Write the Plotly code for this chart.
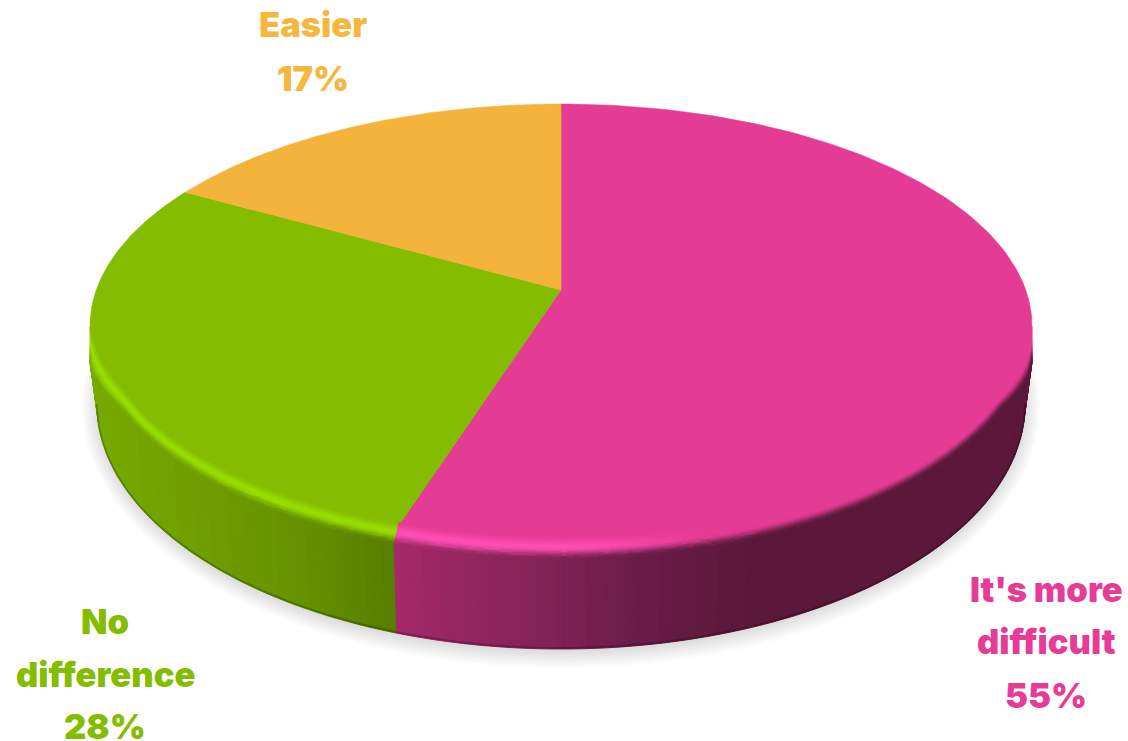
import numpy as np
import plotly.graph_objects as go

# ---- data ----
categories = ["It's more difficult", "No difference", "Easier"]
values = [55, 28, 17]
label_lines = [["It's more", "difficult", "55%"], ["No", "difference", "28%"], ["Easier", "17%"]]
face_colors = [(228, 59, 148), (131, 187, 0), (245, 181, 61)]
label_colors = ["#E63C96", "#84BD00", "#F6B73E"]
highlight_colors = [(255, 78, 178), (152, 222, 0), (245, 181, 61)]

# ---- presentation of the tilted disc (screen units) ----
W, H = 1128, 741
CX, CY, RX, RY = 561.0, 326.0, 471.0, 222.0
APEX_Y = 290.0
K, A, C = 0.162, 216.0, 458.0
BOT_CY, BOT_RX, BOT_RY = 404.0, 464.0, 245.0
label_x = [1046, 105, 313]
label_y = [[589, 641, 695], [621, 674, 726], [24, 78]]
wall_stops = [
    [(395, (166, 40, 106)), (450, (150, 38, 98)), (520, (136, 36, 90)), (600, (115, 30, 78)),
     (680, (98, 26, 66)), (760, (92, 24, 58)), (1040, (92, 24, 58))],
    [(90, (118, 170, 0)), (200, (110, 158, 0)), (300, (100, 146, 0)), (395, (86, 126, 0))],
    [(0, (200, 150, 50)), (1128, (200, 150, 50))],
]


def phi_of_share(share):
    th = 2 * np.pi * share
    d = 1 + K * np.cos(th)
    sx = C * np.sin(th) / d
    sy = APEX_Y - A * np.cos(th) / d
    phi = np.arctan2((sy - CY) / RY, sx / RX)
    while phi < -np.pi / 2 - 1e-9:
        phi += 2 * np.pi
    return phi


shares = np.cumsum([0] + values) / sum(values)
bounds = [-np.pi / 2] + [phi_of_share(s) for s in shares[1:-1]] + [1.5 * np.pi]


def slice_at(phi):
    for i in range(len(values)):
        if bounds[i] <= phi <= bounds[i + 1]:
            return i
    return len(values) - 1


def mix(a, b, t):
    return tuple(a[i] + (b[i] - a[i]) * t for i in range(3))


def wall_color(i, x):
    st = wall_stops[i]
    xs = [s[0] for s in st]
    return tuple(np.interp(x, xs, [s[1][c] for s in st]) for c in range(3))


def hexc(c):
    return "#%02x%02x%02x" % tuple(int(min(255, max(0, round(v / 2) * 2))) for v in c)


groups = {}


def add_poly(color, xs, ys):
    g = groups.setdefault(hexc(color), ([], []))
    g[0].extend(list(xs) + [xs[0], None])
    g[1].extend(list(ys) + [ys[0], None])


def smooth(t):
    t = np.clip(t, 0, 1)
    return t * t * (3 - 2 * t)


def ring(phi, t):
    """t=0 inner bevel edge, t=1 outer rim."""
    s = max(0.0, np.sin(phi))
    w = min(1.0, s / 0.3)
    rx = RX - 14 * w * (1 - t)
    ry = RY + w * (-12 + 23 * t)
    extra = 34 * max(0.0, 1 - s / 0.35) * t
    return CX + rx * np.cos(phi), CY + ry * np.sin(phi) + extra


def bottom(phi):
    return CX + BOT_RX * np.cos(phi), BOT_CY + BOT_RY * np.sin(phi)


fig = go.Figure()

# soft ground shadow
for j in range(14):
    f = j / 13
    phi = np.linspace(0, 2 * np.pi, 240)
    fig.add_trace(go.Scatter(
        x=CX + (479 - 26 * f) * np.cos(phi), y=406 + (262 - 28 * f) * np.sin(phi),
        mode="lines", line=dict(width=0), fill="toself", fillcolor="rgba(0,0,0,0.014)",
        hoverinfo="skip", showlegend=False))

# side wall
grid = np.linspace(0, np.pi, 241)
for a, b in zip(grid[:-1], grid[1:]):
    cuts = [a] + [bd for bd in bounds if a < bd < b] + [b]
    for p, q in zip(cuts[:-1], cuts[1:]):
        i = slice_at(0.5 * (p + q))
        t1, t2 = ring(p, 1), ring(q, 1)
        b1, b2 = bottom(p), bottom(q)
        col = wall_color(i, 0.5 * (t1[0] + t2[0]))
        add_poly(col, [t1[0], t2[0], b2[0], b1[0]], [t1[1], t2[1], b2[1], b1[1]])

# top face
wall_polys = groups
groups = {}
for i in range(len(values)):
    phi = np.linspace(bounds[i], bounds[i + 1], 200)
    xs = [CX] + list(CX + RX * np.cos(phi))
    ys = [APEX_Y] + list(CY + RY * np.sin(phi))
    add_poly(face_colors[i], xs, ys)
face_polys = groups
groups = {}

# bevelled rim on the front half of the face
N_BANDS = 12
PEAK = 0.5
for a, b in zip(grid[:-1], grid[1:]):
    cuts = [a] + [bd for bd in bounds if a < bd < b] + [b]
    for p, q in zip(cuts[:-1], cuts[1:]):
        i = slice_at(0.5 * (p + q))
        for n in range(N_BANDS):
            t0, t1 = n / N_BANDS, (n + 1) / N_BANDS
            tm = 0.5 * (t0 + t1)
            P = [ring(p, t0), ring(q, t0), ring(q, t1), ring(p, t1)]
            xm = sum(v[0] for v in P) / 4
            wc = wall_color(i, xm)
            strength = 1 - smooth((xm - 560) / 170) if i == 0 else 1.0
            hl = mix(face_colors[i], highlight_colors[i], strength)
            if tm < PEAK:
                col = mix(face_colors[i], hl, smooth(tm / PEAK))
            else:
                col = mix(hl, wc, smooth((tm - PEAK) / (1 - PEAK)))
            add_poly(col, [v[0] for v in P], [v[1] for v in P])
rim_polys = groups

for polys, lw in ((wall_polys, 1.0), (face_polys, 0.5), (rim_polys, 0.8)):
    for color, (xs, ys) in polys.items():
        fig.add_trace(go.Scatter(
            x=xs, y=ys, mode="lines", line=dict(color=color, width=lw),
            fill="toself", fillcolor=color, hoverinfo="skip", showlegend=False))

# thin darker lower edge of the wall
for i in range(2):
    lo, hi = max(bounds[i], 0.0), min(bounds[i + 1], np.pi)
    phi = np.linspace(lo, hi, 160)
    fig.add_trace(go.Scatter(
        x=CX + BOT_RX * np.cos(phi), y=BOT_CY + (BOT_RY - 1) * np.sin(phi),
        mode="lines", line=dict(color="rgba(0,0,0,0.22)", width=2),
        hoverinfo="skip", showlegend=False))

for lines, lx, lys, col in zip(label_lines, label_x, label_y, label_colors):
    for text, ly in zip(lines, lys):
        fig.add_annotation(x=lx, y=ly, text=text, showarrow=False, xanchor="center", yanchor="middle",
                           font=dict(family="Inter", size=34.5, color=col, weight=900))

fig.update_layout(
    width=W, height=H, margin=dict(l=0, r=0, t=0, b=0), paper_bgcolor="white", plot_bgcolor="white",
    showlegend=False, hovermode=False,
    xaxis=dict(range=[0, W], visible=False, fixedrange=True),
    yaxis=dict(range=[H, 0], visible=False, fixedrange=True),
)
fig.write_html("out.html", config=dict(displayModeBar=False), post_script="document.body.style.margin='0';document.body.style.overflow='hidden';")
